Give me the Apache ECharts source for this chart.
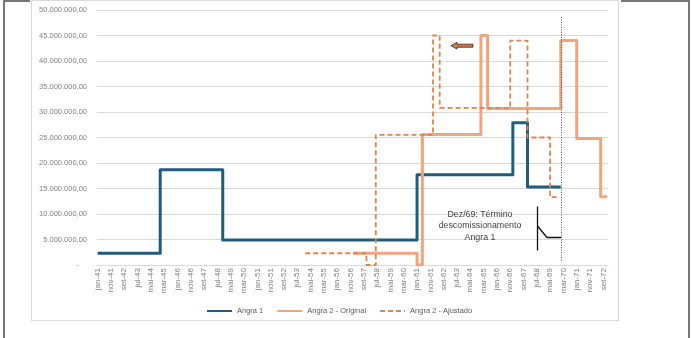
<!DOCTYPE html>
<html>
<head>
<meta charset="utf-8">
<script src="https://cdn.jsdelivr.net/npm/echarts@6/dist/echarts.min.js"></script>
<style>
  html,body{margin:0;padding:0;background:#fff;overflow:hidden;width:691px;height:338px;}
  .abs{position:absolute;}
</style>
</head>
<body>
<div class="abs" style="left:3px;top:0;width:683px;height:400px;border-left:2px solid #767676;border-right:2px solid #767676;border-top:2px solid #767676;"></div>
<div class="abs" style="left:30px;top:0;width:591px;height:3px;background:#fff;"></div>
<div class="abs" style="left:31px;top:0;width:586px;height:319px;border:1px solid #d9d9d9;background:#fff;"></div>
<div id="chart" class="abs" style="left:0;top:0;width:691px;height:338px;"></div>
<script>
// ---- tick labels ----
var monthNames = ['jan','fev','mar','abr','mai','jun','jul','ago','set','out','nov','dez'];
var firstYear = 41, lastYear = 72;
var categories = [];
for (var y = firstYear; y <= lastYear; y++) {
  for (var m = 0; m < 12; m++) categories.push(monthNames[m] + '-' + y);
}

// ---- series (step breakpoints: month where a new level starts, value) ----
var angra1Months  = ['jan-41','dez-44','nov-48','jan-61','jan-67','dez-67','jan-70'];
var angra1Values  = [2300000, 18700000, 4900000, 17700000, 27900000, 15300000, 15300000];

var originalMonths = ['jan-57','jan-61','mai-61','jan-65','jun-65','jan-70','jan-71','jul-72','dez-72'];
var originalValues = [2300000, 0, 25600000, 45000000, 30700000, 44000000, 24800000, 13400000, 13400000];

var ajustadoMonths = ['jan-54','nov-57','jun-58','jan-62','jun-62','nov-66','dez-67','mai-69','out-69'];
var ajustadoValues = [2300000, 0, 25500000, 45000000, 30800000, 44000000, 25000000, 13300000, 13300000];

var seriesNames = ['Angra 1', 'Angra 2 - Original', 'Angra 2 - Ajustado'];

function pairs(months, values) {
  return months.map(function (mm, i) { return [mm, values[i]]; });
}

function fmtBR(v) {
  if (v === 0) return '-    ';
  var s = Math.round(v).toString();
  s = s.replace(/\B(?=(\d{3})+(?!\d))/g, '.');
  return s + ',00';
}

var FONT = 'Liberation Sans';
var chart = echarts.init(document.getElementById('chart'), null, {renderer: 'canvas'});
chart.setOption({
  backgroundColor: 'transparent',
  animation: false,
  grid: {left: 97, right: 83, top: 10, bottom: 73, containLabel: false},
  legend: {
    data: seriesNames,
    left: 201, top: 302,
    itemWidth: 25, itemHeight: 8, itemGap: 13,
    itemStyle: {opacity: 0, color: 'transparent', borderWidth: 0},
    textStyle: {fontFamily: FONT, fontSize: 7.5, color: '#595959'}
  },
  xAxis: {
    type: 'category',
    data: categories,
    boundaryGap: true,
    axisLine: {show: true, lineStyle: {color: '#d9d9d9', width: 1}},
    axisTick: {show: false},
    axisLabel: {
      interval: 9, rotate: 90, margin: 3,
      fontFamily: FONT, fontSize: 8, color: '#7f7f7f'
    },
    splitLine: {show: false}
  },
  yAxis: {
    type: 'value',
    min: 0, max: 50000000, interval: 5000000,
    axisLine: {show: false},
    axisTick: {show: false},
    axisLabel: {
      margin: 10, fontFamily: FONT, fontSize: 7.5, color: '#7f7f7f',
      formatter: fmtBR
    },
    splitLine: {lineStyle: {color: '#d9d9d9', width: 1}}
  },
  series: [
    {
      name: seriesNames[0], type: 'line', step: 'end', symbol: 'none',
      data: pairs(angra1Months, angra1Values),
      lineStyle: {color: '#1f5c7e', width: 3, join: 'round'},
      itemStyle: {color: '#1f5c7e'}
    },
    {
      name: seriesNames[1], type: 'line', step: 'end', symbol: 'none',
      data: pairs(originalMonths, originalValues),
      lineStyle: {color: '#f0a67a', width: 3, join: 'round'},
      itemStyle: {color: '#f0a67a'}
    },
    {
      name: seriesNames[2], type: 'line', step: 'end', symbol: 'none',
      data: pairs(ajustadoMonths, ajustadoValues),
      lineStyle: {color: '#e0834f', width: 1.8, type: [5, 3]},
      itemStyle: {color: '#e0834f'}
    }
  ],
  graphic: [
    {
      type: 'line', silent: true, z: 10,
      shape: {x1: 561.5, y1: 17, x2: 561.5, y2: 262},
      style: {stroke: '#555', lineWidth: 1, lineDash: [1, 1.5]}
    },
    {
      type: 'line', silent: true, z: 10,
      shape: {x1: 537.5, y1: 206.5, x2: 537.5, y2: 250.5},
      style: {stroke: '#111', lineWidth: 1.3}
    },
    {
      type: 'polyline', silent: true, z: 10,
      shape: {points: [[537.5, 226], [547, 237.5], [561, 237.5]]},
      style: {stroke: '#111', lineWidth: 1.3, fill: null}
    },
    {
      type: 'text', silent: true, z: 10,
      x: 480, y: 226,
      style: {
        text: 'Dez/69: Término\ndescomissionamento\nAngra 1',
        fontFamily: FONT, fontSize: 8.8, lineHeight: 11.3,
        fill: '#404040', align: 'center', verticalAlign: 'middle'
      }
    },
    {
      type: 'polygon', silent: true, z: 10,
      shape: {points: [[451, 45.7], [457, 42.3], [457, 44.2], [473, 44.2], [473, 47.2], [457, 47.2], [457, 49.1]]},
      style: {fill: '#e0773f', stroke: '#2a2a2a', lineWidth: 0.8}
    }
  ]
});
</script>
</body>
</html>
